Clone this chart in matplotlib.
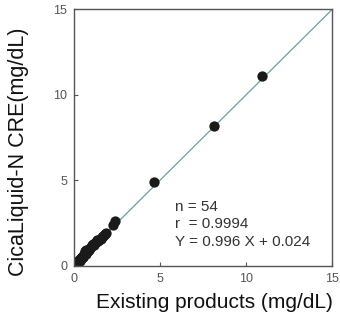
import numpy as np
import matplotlib
matplotlib.use('Agg')
import matplotlib.pyplot as plt

plt.rcParams['font.family'] = ['Liberation Sans', 'DejaVu Sans']

# Data (existing method vs CicaLiquid-N)
xVals = [0.05, 0.08, 0.10, 0.12, 0.15, 0.18, 0.20, 0.22, 0.25, 0.28,
         0.30, 0.32, 0.35, 0.38, 0.40, 0.42, 0.45, 0.48, 0.50, 0.52,
         0.55, 0.58, 0.60, 0.62, 0.65, 0.68, 0.70, 0.72, 0.75, 0.80,
         0.85, 0.90, 0.95, 1.00, 1.05, 1.10, 1.15, 1.20, 1.25, 1.30,
         1.35, 1.40, 1.50, 1.55, 1.60, 1.70, 1.75, 1.80, 1.85, 2.25,
         2.40, 4.65, 8.15, 10.95]
yVals = [0.05, 0.10, 0.12, 0.15, 0.20, 0.20, 0.25, 0.25, 0.30, 0.35,
         0.30, 0.30, 0.40, 0.45, 0.45, 0.40, 0.50, 0.55, 0.55, 0.50,
         0.60, 0.65, 0.70, 0.90, 0.75, 0.70, 0.80, 0.95, 0.85, 0.85,
         1.00, 0.95, 1.05, 1.10, 1.25, 1.30, 1.20, 1.35, 1.40, 1.40,
         1.50, 1.45, 1.55, 1.60, 1.70, 1.75, 1.80, 1.85, 1.90, 2.40,
         2.60, 4.90, 8.15, 11.10]

slope = 0.996
intercept = 0.024
statLines = ['n = 54', 'r  = 0.9994', 'Y = 0.996 X + 0.024']

fig = plt.figure(figsize=(3.4, 3.16), dpi=100)
ax = fig.add_axes([74/340, 1-266/316, 258/340, 257/316])

# regression line
lineX = np.array([0, 15])
ax.plot(lineX, slope*lineX + intercept, color='#6a9fa6', lw=0.9, zorder=1)

# points
ax.scatter(xVals, yVals, s=55, color='#1a1a1a', zorder=2, linewidths=0)

# Format the plot
ax.set_xlim(0, 15)
ax.set_ylim(0, 15)
ax.set_xticks([0, 5, 10, 15])
ax.set_yticks([0, 5, 10, 15])
ax.tick_params(direction='in', length=3, width=0.8, labelsize=9,
               colors='#555555', pad=5)
for sp in ax.spines.values():
    sp.set_color('#555555')
    sp.set_linewidth(1.0)

ax.text(175/340, 1-200/316, '\n'.join(statLines), transform=fig.transFigure,
        fontsize=11, color='#333333', va='top', ha='left', linespacing=1.3)

fig.text(333/340, 1-302/316, 'Existing products (mg/dL)', fontsize=15,
         ha='right', va='center', color='#111111')
fig.text(19/340, 1-152/316, 'CicaLiquid-N CRE(mg/dL)', fontsize=15.5,
         ha='center', va='center', rotation=90, color='#111111')

plt.savefig('out.png', dpi=100)
plt.close()
